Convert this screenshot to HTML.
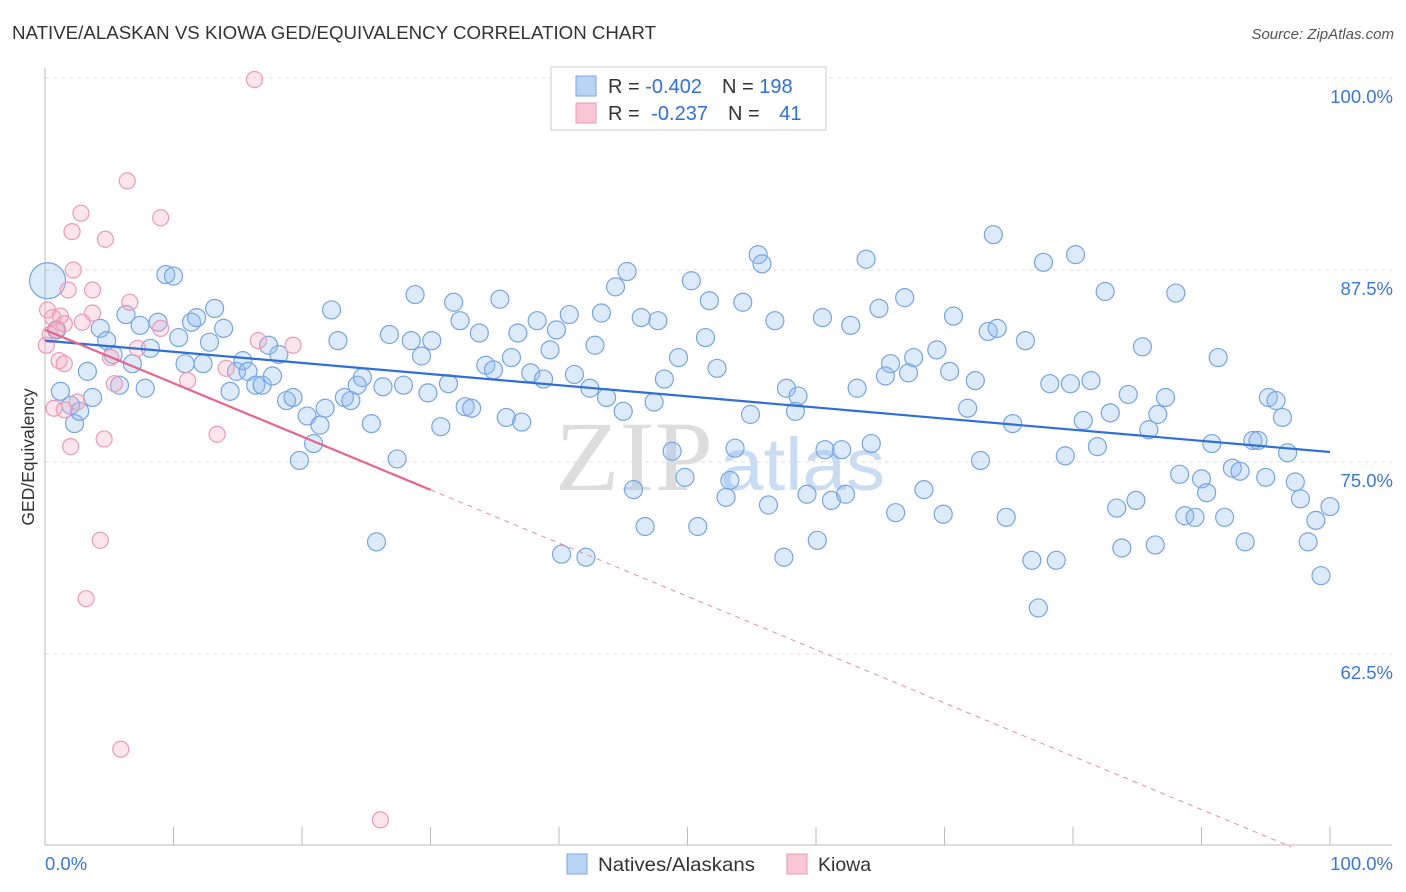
<!DOCTYPE html>
<html><head><meta charset="utf-8"><style>
body{margin:0;background:#fff;font-family:"Liberation Sans",sans-serif;}
svg{display:block}
</style></head><body>
<svg id="c" width="1406" height="892">
<text x="12" y="39" font-size="18.5" fill="#333" textLength="644" lengthAdjust="spacingAndGlyphs">NATIVE/ALASKAN VS KIOWA GED/EQUIVALENCY CORRELATION CHART</text>
<text x="1394" y="39" font-size="15" fill="#555" font-style="italic" text-anchor="end">Source: ZipAtlas.com</text>
<text transform="translate(34,457) rotate(-90)" font-size="17.5" fill="#333" text-anchor="middle">GED/Equivalency</text>
<g id="wm"><text x="555" y="490" font-size="100" font-family="Liberation Serif,serif" fill="#ddd" textLength="158" lengthAdjust="spacingAndGlyphs">ZIP</text><text x="720" y="490" font-size="74" fill="#c9dcf2" textLength="165" lengthAdjust="spacingAndGlyphs">atlas</text></g>
<g id="grid"></g><g id="axes"></g><g id="pts"></g><g id="lines"></g>
<g>
<rect x="551" y="67" width="275" height="63" fill="#fff" stroke="#ccc"/>
<rect x="576" y="76" width="20" height="20" fill="#b9d3f3" stroke="#7aa7e0"/>
<rect x="576" y="103" width="20" height="20" fill="#f9c6d6" stroke="#eb9ab4"/>
<text x="608" y="93" font-size="20" fill="#333">R = <tspan fill="#2f6fd6">-0.402</tspan><tspan dx="20">N = </tspan><tspan fill="#2f6fd6">198</tspan></text>
<text x="608" y="120" font-size="20" fill="#333">R = <tspan fill="#2f6fd6" dx="6">-0.237</tspan><tspan dx="20">N = </tspan><tspan fill="#2f6fd6" dx="14">41</tspan></text>
</g>
<g>
<rect x="567" y="854" width="20" height="20" fill="#b9d3f3" stroke="#7aa7e0"/>
<text x="598" y="871" font-size="19.5" fill="#333" textLength="157" lengthAdjust="spacingAndGlyphs">Natives/Alaskans</text>
<rect x="787" y="854" width="20" height="20" fill="#f9c6d6" stroke="#eb9ab4"/>
<text x="818" y="871" font-size="19.5" fill="#333">Kiowa</text>
</g>
</svg>
<script>
const yTicks=[100,87.5,75,62.5];
const yTickLabels=["100.0%","87.5%","75.0%","62.5%"];
const xTickVals=[0,10,20,30,40,50,60,70,80,90,100];
const blueX=[0.2,1.2,0.9,2.0,2.3,2.7,3.3,3.7,4.3,4.8,5.3,5.8,6.3,6.8,7.4,7.8,8.2,8.8,9.4,10.0,10.4,10.9,11.4,11.8,12.3,12.8,13.2,13.9,14.4,14.9,15.4,15.8,16.4,16.9,17.4,17.7,18.2,18.8,19.3,19.8,20.4,20.9,21.4,21.8,22.3,22.8,23.3,23.8,24.3,24.7,25.4,25.8,26.3,26.8,27.4,27.9,28.5,28.8,29.3,29.8,30.1,30.8,31.4,31.8,32.3,32.7,33.2,33.8,34.3,34.9,35.4,35.9,36.3,36.8,37.1,37.8,38.3,38.8,39.3,39.8,40.2,40.8,41.2,42.1,42.4,42.8,43.3,43.7,44.4,45.0,45.3,45.8,46.4,46.7,47.4,47.7,48.2,48.8,49.3,49.8,50.3,50.8,51.4,51.7,52.3,53.0,53.3,53.7,54.3,54.9,55.5,55.8,56.3,56.8,57.5,57.7,58.4,58.6,59.3,60.1,60.5,60.7,61.2,62.0,62.3,62.7,63.2,63.9,64.3,64.9,65.4,65.8,66.2,66.9,67.2,67.6,68.4,69.4,69.9,70.4,70.7,72.4,71.8,72.8,73.4,73.8,74.1,74.8,75.3,76.3,76.8,77.3,77.7,78.2,78.7,79.4,79.8,80.2,80.8,81.4,81.9,82.5,82.9,83.4,83.8,84.3,84.9,85.4,85.9,86.4,86.6,87.2,88.0,88.3,88.7,89.5,90.0,90.4,90.8,91.3,91.8,92.4,93.0,93.4,94.0,94.4,95.0,95.2,95.8,96.3,96.7,97.3,97.7,98.3,98.9,99.3,100.0];
const blueY=[86.8,79.6,83.6,78.7,77.5,78.3,80.9,79.2,83.7,82.9,82.0,80.0,84.6,81.4,83.9,79.8,82.4,84.1,87.2,87.1,83.1,81.4,84.1,84.4,81.4,82.8,85.0,83.7,79.6,80.9,81.6,80.9,80.0,80.0,82.6,80.6,82.0,79.0,79.2,75.1,78.0,76.2,77.4,78.5,84.9,82.9,79.2,79.0,80.0,80.5,77.5,69.8,79.9,83.3,75.2,80.0,82.9,85.9,81.9,79.5,82.9,77.3,80.1,85.4,84.2,78.6,78.5,83.4,81.3,81.0,85.6,77.9,81.8,83.4,77.6,80.8,84.2,80.4,82.3,83.6,69.0,84.6,80.7,68.8,79.8,82.6,84.7,79.2,86.4,78.3,87.4,73.2,84.4,70.8,78.9,84.2,80.4,75.7,81.8,74.0,86.8,70.8,83.1,85.5,81.1,72.7,73.8,75.9,85.4,78.1,88.5,87.9,72.2,84.2,68.8,79.8,78.3,79.3,72.9,69.9,84.4,75.8,72.5,75.8,72.9,83.9,79.8,88.2,76.2,85.0,80.6,81.4,71.7,85.7,80.8,81.8,73.2,82.3,71.6,80.9,84.5,80.3,78.5,75.1,83.5,89.8,83.7,71.4,77.5,82.9,68.6,65.5,88.0,80.1,68.6,75.4,80.1,88.5,77.7,80.3,76.0,86.1,78.2,72.0,69.4,79.4,72.5,82.5,77.1,69.6,78.1,79.2,86.0,74.2,71.5,71.4,73.9,73.0,76.2,81.8,71.4,74.6,74.4,69.8,76.4,76.4,74.0,79.2,79.0,77.9,75.6,73.7,72.6,69.8,71.2,67.6,72.1];
const pinkX=[16.3,6.4,2.8,9.0,2.1,4.7,2.2,3.7,1.8,6.6,0.2,3.7,1.2,0.6,2.9,1.5,9.0,0.4,16.6,19.3,0.1,7.2,5.1,1.1,1.5,14.1,11.1,5.4,2.5,0.7,1.5,13.4,4.6,2.0,4.3,3.2,5.9,26.1,0.9];
const pinkY=[99.9,93.3,91.2,90.9,90.0,89.5,87.5,86.2,86.2,85.4,84.9,84.7,84.5,84.4,84.1,84.0,83.7,83.3,82.9,82.6,82.6,82.4,81.8,81.6,81.4,81.1,80.3,80.1,78.9,78.5,78.4,76.8,76.5,76.0,69.9,66.1,56.3,51.7,83.6];
const blueTrend=[82.9,75.65];
const pinkTrend=[83.6,-0.347];
const NS="http://www.w3.org/2000/svg";
const X=v=>45+v*12.85, Y=v=>78+(100-v)*15.36;
function mk(t,a,p){const e=document.createElementNS(NS,t);for(const k in a)e.setAttribute(k,a[k]);p.appendChild(e);return e;}
const grid=document.getElementById('grid'),axes=document.getElementById('axes'),pts=document.getElementById('pts'),lines=document.getElementById('lines');
yTicks.forEach((v,i)=>{
 const l=mk('line',{x1:45,x2:1392,y1:Y(v),y2:Y(v),stroke:'#ddd','stroke-dasharray':'4,4'},grid);
 
 
 const t=mk('text',{x:1393,y:Y(v)+25,'font-size':18.5,fill:'#3a78d8','text-anchor':'end'},axes);t.textContent=yTickLabels[i];
 
 
});
mk('line',{x1:45,x2:45,y1:68,y2:845,stroke:'#bbb'},axes);
mk('line',{x1:45,x2:1392,y1:845,y2:845,stroke:'#bbb'},axes);
xTickVals.forEach(v=>{const l=mk('line',{x1:X(v),x2:X(v),y1:827,y2:845,stroke:'#bbb'},axes);
 
 });
let t=mk('text',{x:45,y:870,'font-size':18.5,fill:'#3a78d8'},axes);t.textContent='0.0%';


t=mk('text',{x:1393,y:870,'font-size':18.5,fill:'#3a78d8','text-anchor':'end'},axes);t.textContent='100.0%';


blueX.forEach((x,i)=>{const c=mk('circle',{cx:X(x),cy:Y(blueY[i]),r:i===0?18:9,fill:'rgba(140,185,240,0.3)',stroke:'#77a5e2','stroke-width':1.2},pts);
 
 });
pinkX.forEach((x,i)=>{const c=mk('circle',{cx:X(x),cy:Y(pinkY[i]),r:8,fill:'rgba(245,170,195,0.3)',stroke:'#eb9ab4','stroke-width':1.2},pts);
 
 });
let l=mk('line',{x1:X(0),y1:Y(blueTrend[0]),x2:X(100),y2:Y(blueTrend[1]),stroke:'#2f6fd6','stroke-width':2.2},lines);


l=mk('line',{x1:X(0),y1:Y(pinkTrend[0]),x2:X(30),y2:Y(pinkTrend[0]+pinkTrend[1]*30),stroke:'#e4668f','stroke-width':2.2},lines);


l=mk('line',{x1:X(30),y1:Y(pinkTrend[0]+pinkTrend[1]*30),x2:X(97),y2:Y(pinkTrend[0]+pinkTrend[1]*97),stroke:'#e98aa8','stroke-width':1,'stroke-dasharray':'5,5'},lines);


</script>
</body></html>
